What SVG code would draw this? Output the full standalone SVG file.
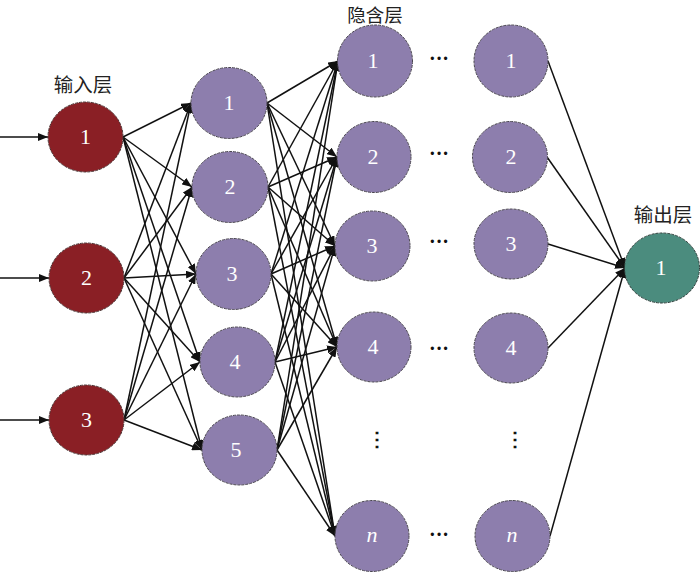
<svg xmlns="http://www.w3.org/2000/svg" width="700" height="572" viewBox="0 0 700 572">
<defs>
<marker id="ah" viewBox="0 0 10 8" refX="10" refY="4" markerUnits="userSpaceOnUse" markerWidth="10" markerHeight="8" orient="auto">
<path d="M0,0 L10,4 L0,8 z" fill="#111"/>
</marker>
</defs>
<style>
.in{fill:#8a1f25;stroke:#4a3434;stroke-width:1;stroke-dasharray:3 1}
.hd{fill:#8d7ead;stroke:#4a4650;stroke-width:1;stroke-dasharray:3 1}
.out{fill:#4b8c7e;stroke:#2f403c;stroke-width:1;stroke-dasharray:3 1}
.num{font-family:"Liberation Serif",serif;font-size:22px;fill:#fff;text-anchor:middle}
.it{font-style:italic}
.lbl{font-family:"Noto Sans CJK SC","Noto Sans CJK JP",sans-serif;font-size:19.5px;fill:#222;text-anchor:middle}
.dots{font-family:"Liberation Serif","DejaVu Serif",serif;font-size:20px;font-weight:bold;fill:#111;text-anchor:middle}
#edges line{stroke:#111;stroke-width:1.5;marker-end:url(#ah)}
</style>
<rect width="700" height="572" fill="#fff"/>
<g id="edges">
<line x1="0" y1="137" x2="48" y2="137"/>
<line x1="0" y1="278" x2="49" y2="278"/>
<line x1="0" y1="420" x2="49" y2="420"/>
<line x1="123" y1="137" x2="191" y2="103"/>
<line x1="123" y1="137" x2="192" y2="187"/>
<line x1="123" y1="137" x2="196" y2="274"/>
<line x1="123" y1="137" x2="200" y2="362"/>
<line x1="123" y1="137" x2="202" y2="450"/>
<line x1="124" y1="278" x2="191" y2="103"/>
<line x1="124" y1="278" x2="192" y2="187"/>
<line x1="124" y1="278" x2="196" y2="274"/>
<line x1="124" y1="278" x2="200" y2="362"/>
<line x1="124" y1="278" x2="202" y2="450"/>
<line x1="124" y1="420" x2="191" y2="103"/>
<line x1="124" y1="420" x2="192" y2="187"/>
<line x1="124" y1="420" x2="196" y2="274"/>
<line x1="124" y1="420" x2="200" y2="362"/>
<line x1="124" y1="420" x2="202" y2="450"/>
<line x1="267" y1="103" x2="338" y2="61"/>
<line x1="267" y1="103" x2="337" y2="157"/>
<line x1="267" y1="103" x2="335" y2="246"/>
<line x1="267" y1="103" x2="337" y2="347"/>
<line x1="267" y1="103" x2="335" y2="536"/>
<line x1="268" y1="187" x2="338" y2="61"/>
<line x1="268" y1="187" x2="337" y2="157"/>
<line x1="268" y1="187" x2="335" y2="246"/>
<line x1="268" y1="187" x2="337" y2="347"/>
<line x1="268" y1="187" x2="335" y2="536"/>
<line x1="271" y1="274" x2="338" y2="61"/>
<line x1="271" y1="274" x2="337" y2="157"/>
<line x1="271" y1="274" x2="335" y2="246"/>
<line x1="271" y1="274" x2="337" y2="347"/>
<line x1="271" y1="274" x2="335" y2="536"/>
<line x1="275" y1="362" x2="338" y2="61"/>
<line x1="275" y1="362" x2="337" y2="157"/>
<line x1="275" y1="362" x2="335" y2="246"/>
<line x1="275" y1="362" x2="337" y2="347"/>
<line x1="275" y1="362" x2="335" y2="536"/>
<line x1="277" y1="450" x2="338" y2="61"/>
<line x1="277" y1="450" x2="337" y2="157"/>
<line x1="277" y1="450" x2="335" y2="246"/>
<line x1="277" y1="450" x2="337" y2="347"/>
<line x1="277" y1="450" x2="335" y2="536"/>
<line x1="548" y1="61" x2="625" y2="268"/>
<line x1="547" y1="157" x2="625" y2="268"/>
<line x1="548" y1="244" x2="625" y2="268"/>
<line x1="548" y1="348" x2="625" y2="268"/>
<line x1="550" y1="536" x2="625" y2="268"/>
</g>
<text class="lbl" x="83" y="92">输入层</text>
<text class="lbl" x="375" y="22" style="font-size:18.5px">隐含层</text>
<text class="lbl" x="663" y="222">输出层</text>
<g id="in1"><ellipse class="in" cx="85.5" cy="137" rx="37.5" ry="35"/><text class="num" x="85.5" y="144">1</text></g>
<g id="in2"><ellipse class="in" cx="86.5" cy="278" rx="37.5" ry="35"/><text class="num" x="86.5" y="285">2</text></g>
<g id="in3"><ellipse class="in" cx="86.5" cy="420" rx="37.5" ry="35"/><text class="num" x="86.5" y="427">3</text></g>
<g id="h1_1"><ellipse class="hd" cx="229" cy="103" rx="38" ry="35.5"/><text class="num" x="229" y="110">1</text></g>
<g id="h1_2"><ellipse class="hd" cx="230" cy="187" rx="38" ry="35.5"/><text class="num" x="230" y="194">2</text></g>
<g id="h1_3"><ellipse class="hd" cx="233.5" cy="274" rx="37.5" ry="35.5"/><text class="num" x="232" y="281">3</text></g>
<g id="h1_4"><ellipse class="hd" cx="237.5" cy="362" rx="37.5" ry="35"/><text class="num" x="235" y="369">4</text></g>
<g id="h1_5"><ellipse class="hd" cx="239.5" cy="450" rx="37.5" ry="35"/><text class="num" x="236" y="457">5</text></g>
<g id="hA_1"><ellipse class="hd" cx="375" cy="61" rx="37.5" ry="36"/><text class="num" x="373" y="68">1</text></g>
<g id="hA_2"><ellipse class="hd" cx="374" cy="157" rx="37" ry="35.5"/><text class="num" x="373" y="164">2</text></g>
<g id="hA_3"><ellipse class="hd" cx="372.5" cy="246" rx="37.5" ry="35"/><text class="num" x="372" y="253">3</text></g>
<g id="hA_4"><ellipse class="hd" cx="374" cy="347" rx="37" ry="35"/><text class="num" x="373" y="354">4</text></g>
<g id="hA_n"><ellipse class="hd" cx="372" cy="536" rx="37" ry="35.5"/><text class="num it" x="372" y="542">n</text></g>
<g id="hB_1"><ellipse class="hd" cx="511" cy="61" rx="37" ry="36"/><text class="num" x="511" y="68">1</text></g>
<g id="hB_2"><ellipse class="hd" cx="510" cy="157" rx="37.5" ry="35.5"/><text class="num" x="511" y="164">2</text></g>
<g id="hB_3"><ellipse class="hd" cx="511" cy="244" rx="37" ry="35"/><text class="num" x="511" y="251">3</text></g>
<g id="hB_4"><ellipse class="hd" cx="511" cy="348" rx="37" ry="35"/><text class="num" x="511" y="355">4</text></g>
<g id="hB_n"><ellipse class="hd" cx="512.5" cy="536" rx="37.5" ry="35.5"/><text class="num it" x="512" y="542">n</text></g>
<g id="out1"><ellipse class="out" cx="662" cy="268" rx="37.5" ry="35"/><text class="num" x="661" y="275">1</text></g>
<text class="dots" x="439" y="65">···</text>
<text class="dots" x="439" y="160">···</text>
<text class="dots" x="439" y="248">···</text>
<text class="dots" x="439" y="355">···</text>
<text class="dots" x="439" y="541">···</text>
<text class="dots" x="377" y="446">⋮</text>
<text class="dots" x="515" y="446">⋮</text>
</svg>
